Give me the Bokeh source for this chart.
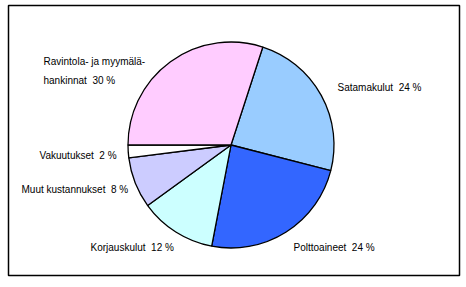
import math
from bokeh.plotting import figure
from bokeh.models import Range1d, ColumnDataSource
from bokeh.core.properties import value
from bokeh.embed import file_html
from bokeh.resources import INLINE

# Data (clockwise order, starting near 12 o'clock)
categories = ["Satamakulut", "Polttoaineet", "Korjauskulut",
              "Muut kustannukset", "Vakuutukset", "Ravintola- ja myymälähankinnat"]
shares = [24, 24, 12, 8, 2, 30]
labels = ["Satamakulut\u00a0 24 %", "Polttoaineet\u00a0 24 %", "Korjauskulut\u00a0 12 %",
          "Muut kustannukset\u00a0 8 %", "Vakuutukset\u00a0 2 %",
          "Ravintola- ja myymälä-\nhankinnat\u00a0 30 %"]
colors = ["#99CCFF", "#3366FF", "#CCFFFF", "#CCCCFF", "#FFFFFF", "#FFCCFF"]

W, H = 466, 287
p = figure(width=W, height=H, output_backend="svg", toolbar_location=None,
           x_range=Range1d(0, W), y_range=Range1d(0, H), min_border=0)
p.axis.visible = False
p.grid.visible = False
p.outline_line_color = None
p.background_fill_color = "white"
p.border_fill_color = "white"

# frame
p.quad(left=[8], right=[459], bottom=[H - 275], top=[H - 5],
       fill_color=None, line_color="black", line_width=1.5)

cx, cy, r = 230.5, H - 144.5, 103
first = 18.0  # degrees clockwise from top
total = sum(shares)
starts, ends = [], []
acc = first
for s in shares:
    a0 = acc
    a1 = acc + s / total * 360.0
    starts.append(math.radians(90 - a0))
    ends.append(math.radians(90 - a1))
    acc = a1

src = ColumnDataSource(dict(start=starts, end=ends, color=colors, cat=categories))
p.wedge(x=cx, y=cy, radius=r, start_angle="start", end_angle="end",
        direction="clock", fill_color="color", line_color="black",
        line_width=1.3, source=src)

# label layout (pixel positions, left aligned)
lab_x = [337, 293, 90, 21, 39, 43]
lab_y = [87.3, 247, 246.5, 189, 155, 70.5]
tsrc = ColumnDataSource(dict(x=lab_x, y=[H - v for v in lab_y], t=labels))
p.text(x="x", y="y", text="t", source=tsrc, text_font=value("Liberation Sans"),
       text_font_size="10px", text_align="left", text_baseline="middle",
       text_color="black", text_line_height=1.65)

open("out.html", "w").write(file_html(p, INLINE))
